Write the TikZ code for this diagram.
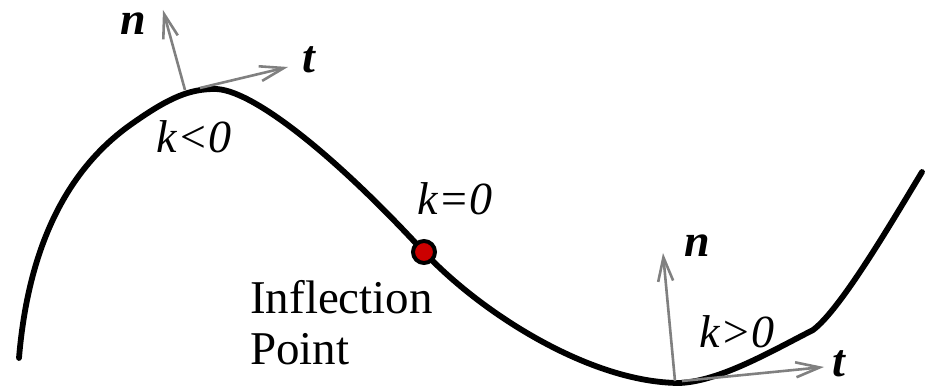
\documentclass[tikz,border=0pt]{standalone}
\usepackage{fontspec}
\setmainfont{Liberation Serif}
\usetikzlibrary{arrows.meta}
\definecolor{dotred}{RGB}{204,0,0}

\begin{document}
\begin{tikzpicture}[
        x=1pt, y=-1pt,
        >={Straight Barb[length=24pt,width=15pt]},
        curve/.style={line width=5.8pt, line cap=round, line join=round},
        vec/.style={->, draw=black!50, fill=none, line width=2.6pt},
        lbl/.style={anchor=base, inner sep=0pt, font=\fontsize{46}{50}\selectfont\itshape},
        vlbl/.style={lbl, font=\fontsize{46}{50}\selectfont\bfseries\itshape},
        ipt/.style={circle, draw, line width=4pt, fill=dotred, inner sep=0pt, minimum size=22pt}
    ]
      \useasboundingbox (0,0) rectangle (932,387);

      % the curve
      \draw[curve] (19,358) .. controls (28,250) and (65,170) .. (133,123)
          .. controls (170,97) and (190,89) .. (215,89)
          .. controls (250,89) and (330,150) .. (424,252)
          .. controls (480,312) and (590,383) .. (680,383)
          .. controls (720,381) and (770,352) .. (813,330)
          .. controls (840,310) and (890,225) .. (922,172);

      % frame at k<0
      \coordinate (pn1) at (185,90);
      \coordinate (pt1) at (200,88);
      \coordinate (n1) at (163,10);
      \coordinate (t1) at (288,67);
      \draw[vec] (pn1) -- (n1);
      \draw[vec] (pt1) -- (t1);
      \node[vlbl] (nlab1) at (133,35) {n};
      \node[vlbl] (tlab1) at (309,73) {t};
      \node[lbl] (kneg) at (194,153) {k<0};

      % inflection point
      \node[ipt] (infl) at (424,252) {};
      \node[lbl] (kzero) at (455,215) {k=0};
      \node[anchor=base west, inner sep=0pt, align=left,
            font=\fontsize{47}{51}\selectfont] (ilab) at (250,364) {Inflection\\Point};

      % frame at k>0
      \coordinate (pn2) at (675,381);
      \coordinate (pt2) at (682,381);
      \coordinate (n2) at (663,253);
      \coordinate (t2) at (824,367);
      \draw[vec] (pn2) -- (n2);
      \draw[vec] (pt2) -- (t2);
      \node[vlbl] (nlab2) at (697,257) {n};
      \node[vlbl] (tlab2) at (839,377) {t};
      \node[lbl] (kpos) at (737,348) {k>0};
    \end{tikzpicture}
\end{document}
